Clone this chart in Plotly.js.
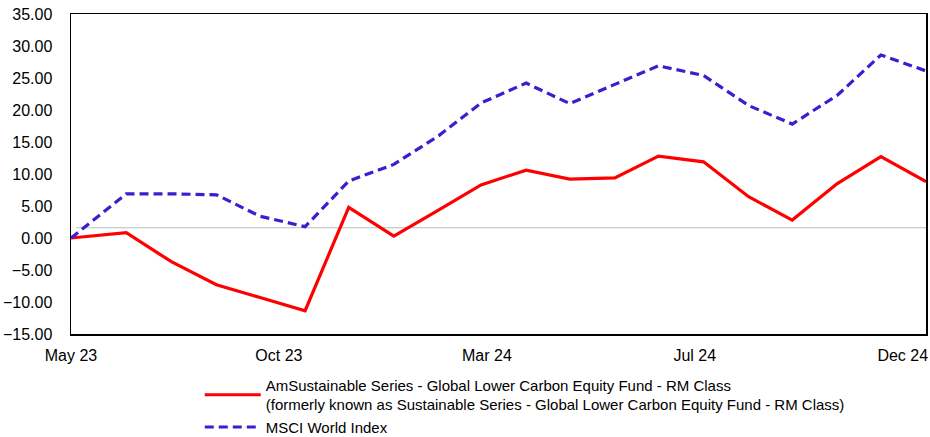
<!DOCTYPE html>
<html>
<head>
<meta charset="utf-8">
<script src="https://cdn.plot.ly/plotly-3.0.1.min.js"></script>
<style>html,body{margin:0;padding:0;background:#fff;}#chart{width:930px;height:437px;}</style>
</head>
<body>
<div id="chart"></div>
<script>
const dates = ['2023-05-23','2023-06-30','2023-07-31','2023-08-31','2023-09-30','2023-10-31','2023-11-30','2023-12-31','2024-01-31','2024-02-29','2024-03-31','2024-04-30','2024-05-31','2024-06-30','2024-07-31','2024-08-31','2024-09-30','2024-10-31','2024-11-30','2024-12-31'];
const fundValues = [0, 0.83, -3.7, -7.3, -9.3, -11.36, 4.8, 0.3, 4.4, 8.3, 10.6, 9.2, 9.4, 12.8, 11.9, 6.45, 2.8, 8.5, 12.7, 8.8];
const indexValues = [0, 6.9, 6.9, 6.75, 3.4, 1.77, 8.9, 11.5, 16.0, 21.1, 24.2, 21.0, 24.0, 26.9, 25.4, 20.7, 17.8, 22.3, 28.6, 26.1];
const tickDates = ['2023-05-23','2023-10-13','2024-03-04','2024-07-25','2024-12-15'];
const tickLabels = ['May 23','Oct 23','Mar 24','Jul 24','Dec 24'];
const fundName = 'AmSustainable Series - Global Lower Carbon Equity Fund - RM Class<br>(formerly known as Sustainable Series - Global Lower Carbon Equity Fund - RM Class)';
const indexName = 'MSCI World Index';
const refLineValue = [1.6];

const traces = [
  {x: dates, y: fundValues, name: fundName, type: 'scatter', mode: 'lines',
   line: {color: '#FF0000', width: 3.2}},
  {x: dates, y: indexValues, name: indexName, type: 'scatter', mode: 'lines',
   line: {color: '#3A1FCF', width: 3.2, dash: '9px,5px'}}
];

const layout = {
  width: 930, height: 437,
  margin: {l: 71, r: 4, t: 14, b: 103, autoexpand: false},
  paper_bgcolor: '#fff', plot_bgcolor: '#fff',
  font: {family: '"Liberation Sans", Arial, sans-serif', size: 15, color: '#000'},
  showlegend: true,
  legend: {x: 0.1506, y: -0.1086, xanchor: 'left', yanchor: 'top', orientation: 'v',
           font: {size: 15}, tracegroupgap: 8, itemwidth: 56, bgcolor: 'rgba(0,0,0,0)',
           maxheight: 300},
  xaxis: {type: 'date', range: [dates[0], dates[dates.length-1]],
          tickvals: tickDates, ticktext: tickLabels, showgrid: false, zeroline: false,
          showline: true, mirror: true, linecolor: '#000', linewidth: 1.5,
          ticks: '', ticklabelstandoff: 6, tickfont: {size: 16}},
  yaxis: {range: [-15, 35], dtick: 5, tick0: 0, tickformat: '.2f', showgrid: false, zeroline: false,
          showline: true, mirror: true, linecolor: '#000', linewidth: 1.5,
          ticks: '', ticklabelstandoff: 14, tickfont: {size: 16}},
  shapes: [{type: 'line', xref: 'paper', yref: 'y', x0: 0.006, x1: 1, y0: refLineValue[0], y1: refLineValue[0],
            line: {color: '#BBBBBB', width: 1.2}, layer: 'below'}]
};

Plotly.newPlot('chart', traces, layout, {displayModeBar: false, staticPlot: true});
</script>
</body>
</html>
